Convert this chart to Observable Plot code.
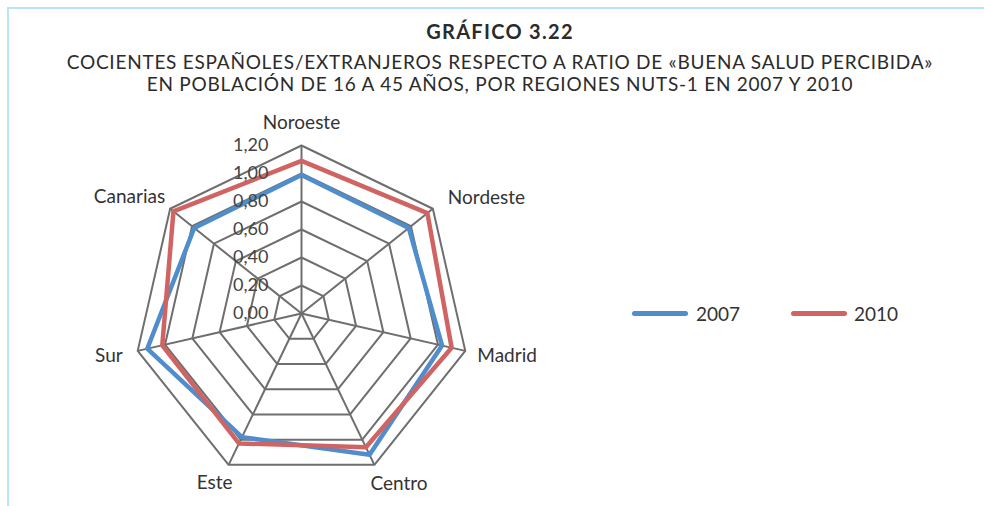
<!DOCTYPE html>
<html>
<head>
<meta charset="utf-8">
<script src="https://cdn.jsdelivr.net/npm/d3@7"></script>
<script src="https://cdn.jsdelivr.net/npm/@observablehq/plot@0.6"></script>
<style>
  html, body { margin: 0; padding: 0; background: #fff; }
  body { width: 984px; height: 506px; overflow: hidden; font-family: Lato, "Open Sans", sans-serif; color: #2b2b2b; }
  #wrap { position: relative; width: 984px; height: 506px; }
  #frame { position: absolute; left: 7px; top: 7px; width: 990px; height: 520px; border-top: 2px solid #b9e4f6; border-left: 2px solid #b9e4f6; }
  #head { position: relative; height: 100px; text-align: center; }
  #title { position: absolute; left: 0; width: 1000px; top: 19px; font-weight: 700; font-size: 20px; letter-spacing: 1.3px; }
  #sub1, #sub2 { position: absolute; left: 0; width: 1000px; font-size: 19px; letter-spacing: 0.75px; }
  #sub1 { top: 50px; }
  #sub2 { top: 72px; }
  #legend { position: absolute; top: 302px; left: 0; font-size: 19px; color: #333; }
  .item { position: absolute; top: 0; white-space: nowrap; }
  .swatch { position: absolute; top: 9px; height: 5px; border-radius: 3px; }
  #chart { position: absolute; left: 0; top: 100px; }
</style>
</head>
<body>
<div id="wrap">
  <div id="frame"></div>
  <div id="head">
    <div id="title">GRÁFICO 3.22</div>
    <div id="sub1">COCIENTES ESPAÑOLES/EXTRANJEROS RESPECTO A RATIO DE «BUENA SALUD PERCIBIDA»</div>
    <div id="sub2">EN POBLACIÓN DE 16 A 45 AÑOS, POR REGIONES NUTS-1 EN 2007 Y 2010</div>
  </div>
  <div id="chart"></div>
  <div id="legend"></div>
</div>
<script>
// ---- data ----
const regions = ["Noroeste", "Nordeste", "Madrid", "Centro", "Este", "Sur", "Canarias"];
const values2007 = [0.99, 0.98, 1.03, 1.12, 0.98, 1.13, 0.98];
const values2010 = [1.09, 1.15, 1.10, 1.06, 1.03, 1.02, 1.17];
const tickValues = [0, 0.2, 0.4, 0.6, 0.8, 1.0, 1.2];
const tickLabels = ["0,00", "0,20", "0,40", "0,60", "0,80", "1,00", "1,20"];
const seriesNames = ["2007", "2010"];

// ---- styles ----
const colors = {"2007": "#4f8dcd", "2010": "#d06462"};
const gridColor = "#6e6e6e";
const rMax = 1.2;
const n = regions.length;
const ang = i => (i % n) * 2 * Math.PI / n;
const px = (r, i) => r * Math.sin(ang(i));
const py = (r, i) => r * Math.cos(ang(i));

// rings
const rings = [];
tickValues.filter(t => t > 0).forEach(t => {
  for (let i = 0; i <= n; i++) rings.push({ring: t, x: px(t, i), y: py(t, i)});
});
// spokes
const spokes = regions.map((name, i) => ({x2: px(rMax, i), y2: py(rMax, i)}));
// series
const series = [];
[[seriesNames[0], values2007], [seriesNames[1], values2010]].forEach(([s, vals]) => {
  for (let i = 0; i <= n; i++) series.push({s, x: px(vals[i % n], i), y: py(vals[i % n], i)});
});
// labels
const labelStyle = [
  {anchor: "middle", dx: 0, dy: -23},
  {anchor: "start", dx: 15, dy: -11},
  {anchor: "start", dx: 12, dy: 5},
  {anchor: "start", dx: -4, dy: 19},
  {anchor: "end", dx: 4, dy: 18},
  {anchor: "end", dx: -15, dy: 5},
  {anchor: "end", dx: -5, dy: -12}
];
const labelMarks = regions.map((name, i) => Plot.text([name], {
  x: () => px(rMax, i), y: () => py(rMax, i), text: d => d,
  textAnchor: labelStyle[i].anchor, dx: labelStyle[i].dx, dy: labelStyle[i].dy,
  fontSize: 19, fill: "#333", style: "letter-spacing:0.4px"
}));

const cx = 301, cy = 213, R = 168;
const plot = Plot.plot({
  width: 984,
  height: 406,
  margin: 0,
  style: {fontFamily: "Lato, 'Open Sans', sans-serif", background: "transparent", overflow: "visible"},
  x: {domain: [-rMax, rMax], range: [cx - R, cx + R], axis: null},
  y: {domain: [-rMax, rMax], range: [cy + R, cy - R], axis: null},
  marks: [
    Plot.line(rings, {x: "x", y: "y", z: "ring", stroke: gridColor, strokeWidth: 2}),
    Plot.link(spokes, {x1: () => 0, y1: () => 0, x2: "x2", y2: "y2", stroke: gridColor, strokeWidth: 2}),
    Plot.line(series, {x: "x", y: "y", z: "s", stroke: d => colors[d.s], strokeWidth: 4.5, strokeLinejoin: "miter"}),
    Plot.text(tickValues, {x: () => 0, y: d => d, text: (d, i) => tickLabels[i], textAnchor: "end", dx: -33, fontSize: 18, fill: "#444"}),
    ...labelMarks
  ]
});
document.getElementById("chart").appendChild(plot);

// legend (html)
const legendPos = [{line: 632, text: 696}, {line: 791, text: 854}];
const legend = document.getElementById("legend");
seriesNames.forEach((s, i) => {
  const sw = document.createElement("div");
  sw.className = "swatch";
  sw.style.left = legendPos[i].line + "px";
  sw.style.width = "56px";
  sw.style.background = colors[s];
  legend.appendChild(sw);
  const t = document.createElement("div");
  t.className = "item";
  t.style.left = legendPos[i].text + "px";
  t.textContent = s;
  legend.appendChild(t);
});
</script>
</body>
</html>
